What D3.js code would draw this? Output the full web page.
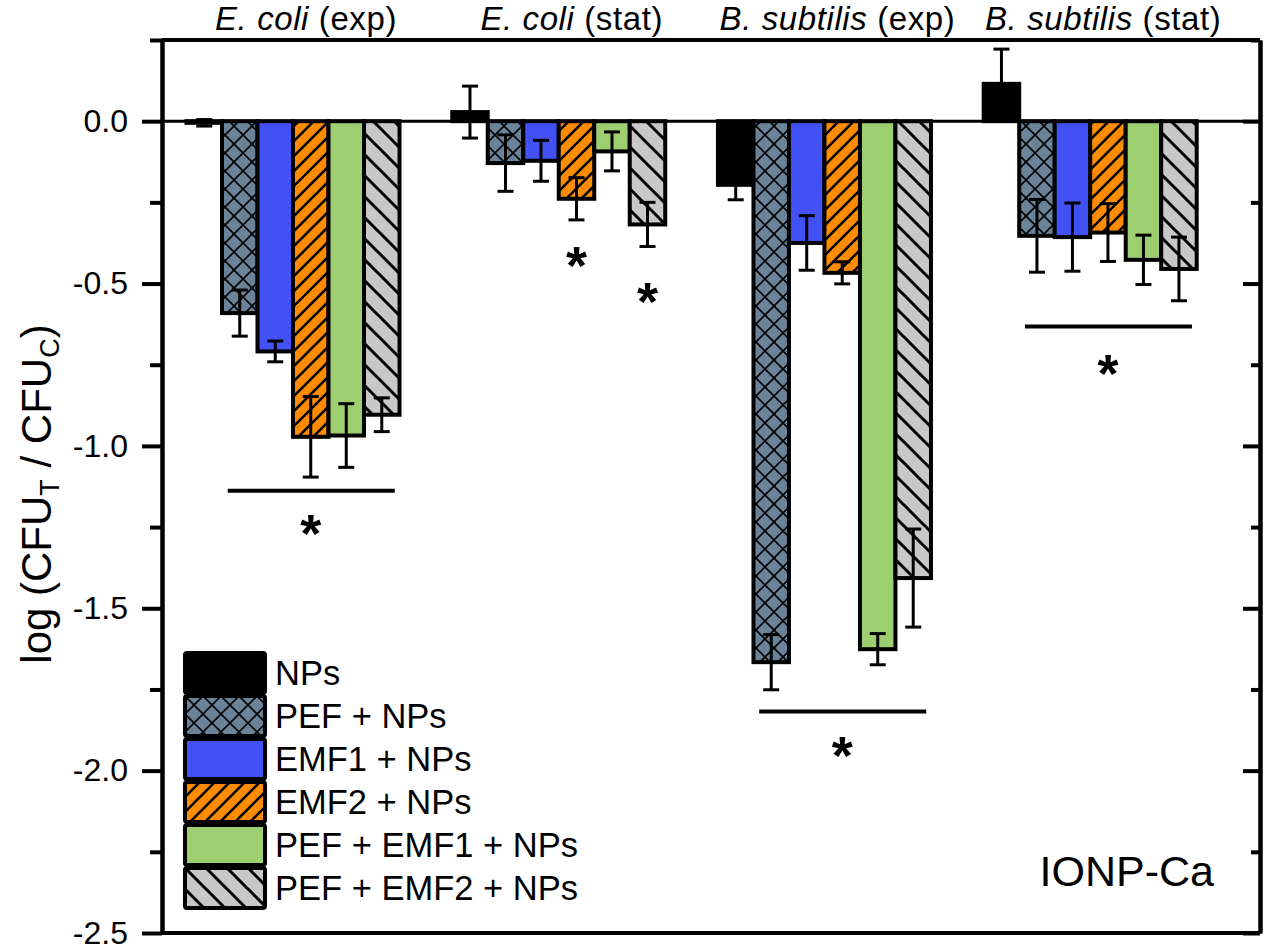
<!DOCTYPE html>
<html>
<head>
<meta charset="utf-8">
<script src="https://cdn.jsdelivr.net/npm/d3@7"></script>
<style>
  body { margin: 0; background: #fff; }
  svg { display: block; font-family: "Liberation Sans", Arial, sans-serif; }
</style>
</head>
<body>
<svg id="chart" width="1267" height="946"></svg>
<script>
// categories (bacteria + growth phase)
const species = ["E. coli", "E. coli", "B. subtilis", "B. subtilis"];
const phases = ["(exp)", "(stat)", "(exp)", "(stat)"];

// treatment series
const seriesNames = ["NPs", "PEF + NPs", "EMF1 + NPs", "EMF2 + NPs", "PEF + EMF1 + NPs", "PEF + EMF2 + NPs"];

// log(CFU_T / CFU_C) per series, one value per category
const npsVals     = [-0.005, 0.028, -0.196, 0.115];
const pefVals     = [-0.591, -0.129, -1.666, -0.353];
const emf1Vals    = [-0.709, -0.122, -0.375, -0.357];
const emf2Vals    = [-0.972, -0.239, -0.467, -0.343];
const pefEmf1Vals = [-0.968, -0.093, -1.626, -0.427];
const pefEmf2Vals = [-0.904, -0.318, -1.407, -0.455];

// error bars (+/-)
const npsErr     = [0.010, 0.080, 0.046, 0.107];
const pefErr     = [0.071, 0.087, 0.085, 0.112];
const emf1Err    = [0.032, 0.063, 0.084, 0.105];
const emf2Err    = [0.124, 0.065, 0.034, 0.089];
const pefEmf1Err = [0.098, 0.060, 0.048, 0.076];
const pefEmf2Err = [0.052, 0.068, 0.151, 0.098];

// y ticks
const majorTicks = [0, -0.5, -1.0, -1.5, -2.0, -2.5];
const minorTicks = [0.25, -0.25, -0.75, -1.25, -1.75, -2.25];

// significance brackets: category, level
const sigGroups = [0, 2, 3];
const sigLevels = [-1.138, -1.818, -0.632];
// asterisks: category, series index (null = bracket centre), level
const starGroups = [0, 1, 1, 2, 3];
const starSeries = [null, 3, 5, null, null];
const starLevels = [-1.23, -0.405, -0.516, -1.915, -0.74];

const panelLabel = "IONP-Ca";

const values = [npsVals, pefVals, emf1Vals, emf2Vals, pefEmf1Vals, pefEmf2Vals];
const errors = [npsErr, pefErr, emf1Err, emf2Err, pefEmf1Err, pefEmf2Err];

const svg = d3.select("#chart");
const plotL = 162, plotR = 1260, plotT = 40, plotB = 933;

const x = d3.scaleLinear().domain([-0.493, 3.639]).range([plotL, plotR]);
const y = d3.scaleLinear().domain([-2.5, 0.25]).range([plotB, plotT]);
const step = 0.1336;
const barX = (g, s) => x(g + (s - 2.5) * step);
const barW = x(step) - x(0);

// fills / patterns
const defs = svg.append("defs");
function stripes(id, size, bg, d, w) {
  const p = defs.append("pattern").attr("id", id).attr("patternUnits", "userSpaceOnUse")
    .attr("width", size).attr("height", size);
  p.append("rect").attr("width", size).attr("height", size).attr("fill", bg);
  p.append("path").attr("d", d).attr("stroke", "#000").attr("stroke-width", w).attr("fill", "none");
}
stripes("cross", 18, "#6b8399", "M-2,-2L20,20M20,-2L-2,20", 1.6);
stripes("fwd", 15, "#ff8c00", "M-1,16L16,-1M-5,5L5,-5M10,20L20,10", 2.6);
stripes("back", 21, "#c8c8c8", "M-1,-1L22,22M-6,15L6,27M15,-6L27,6", 3);
const fills = ["#000", "url(#cross)", "#4151f3", "url(#fwd)", "#9dcf70", "url(#back)"];

// bars
const barData = [];
values.forEach((vals, s) => vals.forEach((v, g) => barData.push({ s, g, v, e: errors[s][g] })));

svg.append("g").selectAll("rect").data(barData).join("rect")
  .attr("x", d => barX(d.g, d.s) - barW / 2)
  .attr("width", barW)
  .attr("y", d => y(Math.max(d.v, 0)))
  .attr("height", d => Math.abs(y(d.v) - y(0)))
  .attr("fill", d => fills[d.s])
  .attr("stroke", "#000").attr("stroke-width", 4);

// zero line
svg.append("line").attr("x1", plotL).attr("x2", plotR).attr("y1", y(0)).attr("y2", y(0))
  .attr("stroke", "#000").attr("stroke-width", 3);

// error bars
const eb = svg.append("g").attr("stroke", "#000").attr("stroke-width", 3);
barData.forEach(d => {
  const cx = barX(d.g, d.s);
  eb.append("line").attr("x1", cx).attr("x2", cx).attr("y1", y(d.v + d.e)).attr("y2", y(d.v - d.e));
  [d.v + d.e, d.v - d.e].forEach(t =>
    eb.append("line").attr("x1", cx - 8).attr("x2", cx + 8).attr("y1", y(t)).attr("y2", y(t)));
});

// significance lines and asterisks
sigGroups.forEach((g, i) => {
  svg.append("line")
    .attr("x1", barX(g, 1) - 12).attr("x2", barX(g, 5) + 13)
    .attr("y1", y(sigLevels[i])).attr("y2", y(sigLevels[i]))
    .attr("stroke", "#000").attr("stroke-width", 4);
});
starGroups.forEach((g, i) => {
  const s = starSeries[i];
  const cx = s === null ? (barX(g, 1) + barX(g, 5)) / 2 : barX(g, s);
  svg.append("text").attr("x", cx).attr("y", y(starLevels[i]) + 31)
    .attr("text-anchor", "middle").attr("font-size", 54).attr("font-weight", "bold")
    .text("*");
});

// frame
svg.append("line").attr("x1", plotL).attr("x2", plotR).attr("y1", plotT).attr("y2", plotT)
  .attr("stroke", "#000").attr("stroke-width", 4);
svg.append("line").attr("x1", plotL).attr("x2", plotR).attr("y1", plotB).attr("y2", plotB)
  .attr("stroke", "#000").attr("stroke-width", 4);

// left axis
const fmt = d => d.toFixed(1);
const axL = svg.append("g").attr("transform", `translate(${plotL},0)`)
  .call(d3.axisLeft(y).tickValues(majorTicks).tickSize(20).tickSizeOuter(0).tickPadding(14).tickFormat(fmt));
svg.append("g").attr("transform", `translate(${plotL},0)`)
  .call(d3.axisLeft(y).tickValues(minorTicks).tickSize(12).tickSizeOuter(0).tickFormat(""));
// right axis, ticks inward
svg.append("g").attr("transform", `translate(${plotR},0)`)
  .call(d3.axisRight(y).tickValues(majorTicks).tickSize(-17).tickSizeOuter(0).tickFormat(""));
svg.append("g").attr("transform", `translate(${plotR},0)`)
  .call(d3.axisRight(y).tickValues(minorTicks).tickSize(-9).tickSizeOuter(0).tickFormat(""));

svg.selectAll(".domain").attr("stroke-width", 4);
svg.selectAll(".tick line").attr("stroke-width", 4);
axL.selectAll(".tick text").attr("font-size", 32).attr("fill", "#000")
  .attr("font-family", "Liberation Sans, Arial, sans-serif");

// category titles
species.forEach((sp, g) => {
  const t = svg.append("text").attr("x", x(g) + 13).attr("y", 30)
    .attr("text-anchor", "middle").attr("font-size", 33).attr("letter-spacing", 0.6);
  t.append("tspan").attr("font-style", "italic").text(sp);
  t.append("tspan").text(" " + phases[g]);
});

// y axis title
const yt = svg.append("text").attr("transform", "translate(51,494) rotate(-90)")
  .attr("text-anchor", "middle").attr("font-size", 42);
yt.append("tspan").text("log (CFU");
yt.append("tspan").attr("font-size", 27).attr("dy", 8).text("T");
yt.append("tspan").attr("dy", -8).text(" /  CFU");
yt.append("tspan").attr("font-size", 27).attr("dy", 8).text("C");
yt.append("tspan").attr("dy", -8).text(")");

// panel label
svg.append("text").attr("x", 1214).attr("y", 886).attr("text-anchor", "end")
  .attr("font-size", 43).text(panelLabel);

// legend
const lg = svg.append("g").attr("transform", "translate(185,653)");
seriesNames.forEach((name, i) => {
  const row = lg.append("g").attr("transform", `translate(0,${i * 43})`);
  row.append("rect").attr("width", 80).attr("height", 40).attr("rx", 2)
    .attr("fill", fills[i]).attr("stroke", "#000").attr("stroke-width", 4);
  row.append("text").attr("x", 90).attr("y", 32).attr("font-size", 34.5).text(name);
});
</script>
</body>
</html>
